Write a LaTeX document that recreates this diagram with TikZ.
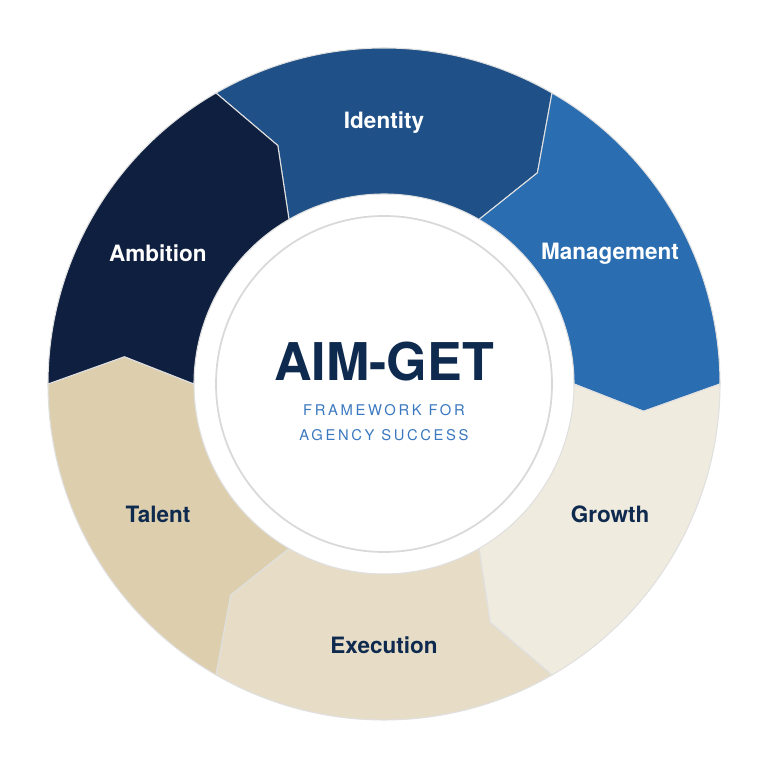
\documentclass[tikz,border=0pt]{standalone}
\usepackage{fontspec}
\setmainfont{TeX Gyre Heros}
\definecolor{cIdentity}{HTML}{1F5087}
\definecolor{cManagement}{HTML}{2A6DB0}
\definecolor{cGrowth}{HTML}{F0EBDF}
\definecolor{cExecution}{HTML}{E7DDC7}
\definecolor{cTalent}{HTML}{DDCFAE}
\definecolor{cAmbition}{HTML}{0F1F40}
\definecolor{navy}{HTML}{0F2A4F}
\definecolor{subblue}{HTML}{3A78C0}
\tikzset{seglabel/.style={font=\fontsize{6.4}{7}\selectfont\bfseries}}
\begin{document}
\begin{tikzpicture}[x=0.01cm,y=0.01cm]
  \useasboundingbox (-384,-384) rectangle (384,384);
  % Segments
  \foreach \a/\b/\col/\tc/\txt in {120/60/cIdentity/white/Identity,
      60/0/cManagement/white/Management, 0/-60/cGrowth/navy/Growth,
      -60/-120/cExecution/navy/Execution, -120/-180/cTalent/navy/Talent,
      180/120/cAmbition/white/Ambition}{
    \draw[fill=\col, draw=black!12, line width=0.3pt]
      (\a:336) arc[start angle=\a, end angle=\b, radius=336]
      -- (\b-6:261) -- (\b:190) arc[start angle=\b, end angle=\a, radius=190]
      -- (\a-6:261) -- cycle;
    \node[seglabel, text=\tc] (lbl\txt) at ({(\a+\b)/2}:261) {\txt};
  }
  % Centre
  \node[circle, fill=white, minimum size=3.52cm, inner sep=0] (hub) at (0,0) {};
  \draw[black!15, line width=0.5pt] (hub.center) circle[radius=168];
  \node[font=\fontsize{14.8}{16}\selectfont\bfseries, text=navy] (title) at (0,22) {AIM-GET};
  \node[font=\fontsize{4.2}{7.1}\selectfont\addfontfeature{LetterSpace=18}, text=subblue, align=center]
    (sub) at (0,-39) {FRAMEWORK FOR\\AGENCY SUCCESS};
\end{tikzpicture}
\end{document}
